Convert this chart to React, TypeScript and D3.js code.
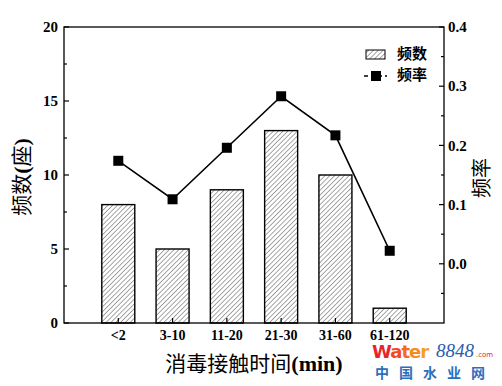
import React from "react";
import * as d3 from "d3";

const categories = ["<2", "3-10", "11-20", "21-30", "31-60", "61-120"];
const counts = [8, 5, 9, 13, 10, 1];
const rates = [0.174, 0.109, 0.196, 0.283, 0.217, 0.022];
const leftTicks = [0, 5, 10, 15, 20];
const leftMinor = [2.5, 7.5, 12.5, 17.5];
const rightTicks = [0.0, 0.1, 0.2, 0.3, 0.4];
const rightMinor = [-0.05, 0.05, 0.15, 0.25, 0.35];

const W = 502, H = 386;
const L = 64, R = 444, T = 27, B = 323;
const serif = "'Liberation Serif', 'Times New Roman', serif";
const cjk = "'Noto Sans CJK SC', sans-serif";

export default function App() {
  const x = d3.scaleLinear().domain([0, categories.length + 1]).range([L, R]);
  const yL = d3.scaleLinear().domain([0, 20]).range([B, T]);
  const yR = d3.scaleLinear().domain([-0.1, 0.4]).range([B, T]);
  const bw = 33;
  const line = d3.line<number>().x((_, i) => x(i + 1)).y((d) => yR(d));
  const ms = 10;
  return (
    <svg width={W} height={H} style={{ position: "absolute", left: 0, top: 0, background: "#fff" }}>
      <defs>
        <pattern id="hatch" patternUnits="userSpaceOnUse" width={3.4} height={3.4} patternTransform="rotate(45)">
          <line x1={0} y1={0} x2={0} y2={3.4} stroke="#000" strokeWidth={0.7} />
        </pattern>
      </defs>
      <rect width={W} height={H} fill="#fff" />
      {counts.map((c, i) => (
        <rect key={i} x={x(i + 1) - bw / 2} y={yL(c)} width={bw} height={B - yL(c)}
          fill="url(#hatch)" stroke="#000" strokeWidth={1.4} />
      ))}
      <path d={line(rates) || ""} fill="none" stroke="#000" strokeWidth={1.6} />
      {rates.map((r, i) => (
        <rect key={i} x={x(i + 1) - ms / 2} y={yR(r) - ms / 2} width={ms} height={ms} fill="#000" />
      ))}
      <rect x={L} y={T} width={R - L} height={B - T} fill="none" stroke="#000" strokeWidth={1.3} />
      {leftTicks.map((t) => (
        <g key={t}>
          <line x1={L} x2={L + 5} y1={yL(t)} y2={yL(t)} stroke="#000" strokeWidth={1.2} />
          <text x={L - 6} y={yL(t)} dy="0.35em" textAnchor="end" fontFamily={serif} fontWeight="bold" fontSize={15}>{t}</text>
        </g>
      ))}
      {leftMinor.map((t) => (
        <line key={t} x1={L} x2={L + 3} y1={yL(t)} y2={yL(t)} stroke="#000" strokeWidth={1.2} />
      ))}
      {rightTicks.map((t) => (
        <g key={t}>
          <line x1={R} x2={R - 5} y1={yR(t)} y2={yR(t)} stroke="#000" strokeWidth={1.2} />
          <text x={R + 4} y={yR(t)} dy="0.35em" textAnchor="start" fontFamily={serif} fontWeight="bold" fontSize={15}>{t.toFixed(1)}</text>
        </g>
      ))}
      {rightMinor.map((t) => (
        <line key={t} x1={R} x2={R - 3} y1={yR(t)} y2={yR(t)} stroke="#000" strokeWidth={1.2} />
      ))}
      {categories.map((c, i) => (
        <g key={c}>
          <line x1={x(i + 1)} x2={x(i + 1)} y1={B} y2={B - 5} stroke="#000" strokeWidth={1.2} />
          <text x={x(i + 1)} y={B + 17} textAnchor="middle" fontFamily={serif} fontWeight="bold" fontSize={14}>{c}</text>
        </g>
      ))}
      <text x={254} y={371} textAnchor="middle" fontSize={21}>
        <tspan fontFamily={cjk}>消毒接触时间</tspan>
        <tspan fontFamily={serif} fontWeight="bold" fontSize={22}>(min)</tspan>
      </text>
      <text transform="translate(29,177) rotate(-90)" textAnchor="middle" fontSize={21}>
        <tspan fontFamily={cjk}>频数</tspan>
        <tspan fontFamily={serif} fontWeight="bold" fontSize={22}>(</tspan>
        <tspan fontFamily={cjk}>座</tspan>
        <tspan fontFamily={serif} fontWeight="bold" fontSize={22}>)</tspan>
      </text>
      <text transform="translate(489,178) rotate(-90)" textAnchor="middle" fontSize={20} fontFamily={cjk}>频率</text>
      {/* legend */}
      <rect x={366} y={50} width={19} height={9} fill="url(#hatch)" stroke="#000" strokeWidth={1} />
      <text x={397} y={59} fontFamily={cjk} fontWeight="bold" fontSize={15}>频数</text>
      <line x1={364} x2={387} y1={76} y2={76} stroke="#000" strokeWidth={1.6} strokeDasharray="4,3" />
      <rect x={371} y={71} width={10} height={10} fill="#000" />
      <text x={397} y={80} fontFamily={cjk} fontWeight="bold" fontSize={15}>频率</text>
      {/* watermark */}
      <text x={372} y={358} fontFamily="'DejaVu Sans', sans-serif" fontWeight="bold" fontSize={18} letterSpacing={-1}>
        <tspan fill="#e8262a">W</tspan>
        <tspan fill="#f04a22">a</tspan>
        <tspan fill="#f36c21">t</tspan>
        <tspan fill="#f58a1f">e</tspan>
        <tspan fill="#f5a01c">r</tspan>
      </text>
      <text x={436} y={357} fontFamily={serif} fontStyle="italic" fontSize={19} fill="#2a5db0">8848</text>
      <text x={476} y={357} fontFamily="'DejaVu Sans', sans-serif" fontSize={7} fill="#e8262a">.com</text>
      <text x={375} y={378} fontFamily={cjk} fontWeight="bold" fontSize={14} fill="#2a6fc0" letterSpacing={10}>中国水业网</text>
    </svg>
  );
}
